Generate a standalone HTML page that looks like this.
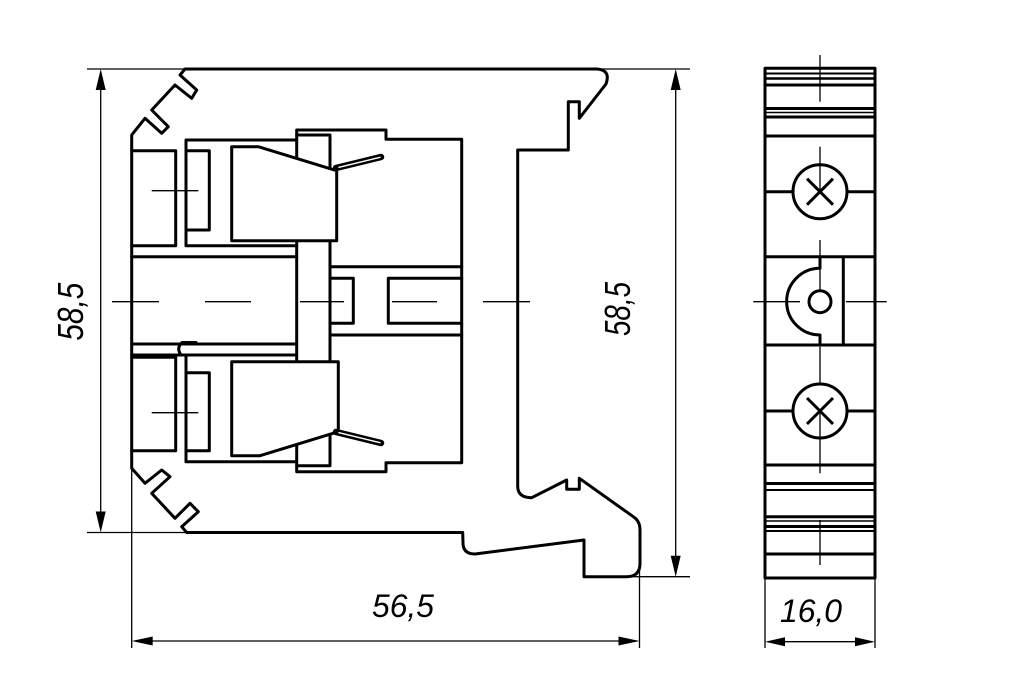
<!DOCTYPE html>
<html><head><meta charset="utf-8"><style>
html,body{margin:0;padding:0;background:#fff;}
svg{display:block;}
</style></head><body>
<svg width="1024" height="700" viewBox="0 0 1024 700" xmlns="http://www.w3.org/2000/svg">
<rect width="1024" height="700" fill="#fff"/>
<g fill="none" stroke="#000" stroke-width="1.3">
  <!-- left dim -->
  <line x1="87" y1="69" x2="186" y2="69"/>
  <line x1="87" y1="532.5" x2="187" y2="532.5"/>
  <line x1="100.7" y1="80" x2="100.7" y2="522"/>
  <!-- right dim -->
  <line x1="596" y1="69" x2="690" y2="69"/>
  <line x1="626" y1="576.7" x2="690" y2="576.7"/>
  <line x1="675.7" y1="80" x2="675.7" y2="566"/>
  <!-- bottom dim -->
  <line x1="131.7" y1="468" x2="131.7" y2="648"/>
  <line x1="639.5" y1="570" x2="639.5" y2="648"/>
  <line x1="142" y1="641" x2="629" y2="641"/>
  <!-- right view dim -->
  <line x1="765" y1="578" x2="765" y2="648"/>
  <line x1="875" y1="578" x2="875" y2="648"/>
  <line x1="775" y1="641.7" x2="865" y2="641.7"/>
  <!-- center lines -->
  <line x1="151.7" y1="190.7" x2="198.3" y2="190.7"/>
  <line x1="245" y1="190.7" x2="260" y2="190.7"/>
  <line x1="151.7" y1="412.7" x2="198.3" y2="412.7"/>
  <line x1="245" y1="412.7" x2="260" y2="412.7"/>
  <line x1="112" y1="301.7" x2="159" y2="301.7"/>
  <line x1="205" y1="301.7" x2="251" y2="301.7"/>
  <line x1="300" y1="301.7" x2="344" y2="301.7"/>
  <line x1="392" y1="301.7" x2="437" y2="301.7"/>
  <line x1="483" y1="301.7" x2="530" y2="301.7"/>
  <line x1="820" y1="55" x2="820" y2="101.7"/>
  <line x1="820" y1="146.7" x2="820" y2="191.7"/>
  <line x1="820" y1="240" x2="820" y2="290"/>
  <line x1="820" y1="346.7" x2="820" y2="384"/>
  <line x1="820" y1="411" x2="820" y2="473.3"/>
  <line x1="820" y1="520" x2="820" y2="565"/>
  <line x1="753.3" y1="301.7" x2="800" y2="301.7"/>
  <line x1="846" y1="301.7" x2="886.7" y2="301.7"/>
</g>
<!-- arrowheads -->
<g fill="#000" stroke="none">
  <polygon points="100.7,69 95.7,90 105.7,90"/>
  <polygon points="100.7,532.5 95.7,511.5 105.7,511.5"/>
  <polygon points="675.7,69 670.7,90 680.7,90"/>
  <polygon points="675.7,576.7 670.7,555.7 680.7,555.7"/>
  <polygon points="131.7,641 152.7,636.5 152.7,645.5"/>
  <polygon points="639.5,641 618.5,636.5 618.5,645.5"/>
  <polygon points="765,641.7 785,637.2 785,646.2"/>
  <polygon points="875,641.7 855,637.2 855,646.2"/>
</g>
<g fill="none" stroke="#000" stroke-width="3" stroke-linejoin="round" stroke-linecap="round">
  <!-- body outline -->
  <path d="M185,69 L597,69 Q611,70 606,84 L579.3,118.3 L579.3,101.7 L568.3,101.7 L568.3,150 L517.7,150 L517.7,486.7 Q518,497.7 531.7,497.7 L566.7,480 L566.7,489.3 L579.3,489.3 L579.3,478.3 L633.3,516.7 Q640,521 640,530 L640,563.3 Q640,576.7 626.7,576.7 L584,576.7 L584,540 L475,554 Q463,554 463,543 L462.7,532.5 L186.7,532.5 L181.7,526.7 L198.3,511.7 L190,503.3 L175,518.3 L151.7,493.3 L170,476.7 L161.7,470 L145,483.3 L131.7,468.3 L131.7,135 L145,118.3 L161.7,133.3 L168.3,126.7 L151.7,110 L175,85 L191.7,98.3 L196.7,90 L180,75 Z"/>
  <!-- housing frame -->
  <path d="M296.7,130 L386,130 L386,139.3 L461.7,139.3 L461.7,462.7 L386,462.7 L386,471.7 L296.7,471.7 Z"/>
  <path d="M296.7,135 L330,135 L330,465.7 L296.7,465.7"/>
  <line x1="330" y1="266.7" x2="461.7" y2="266.7"/>
  <line x1="330" y1="335" x2="461.7" y2="335"/>
  <path d="M330,278.3 L353.3,278.3 L353.3,323.3 L330,323.3"/>
  <path d="M461.7,278.3 L388.3,278.3 L388.3,323.3 L461.7,323.3"/>
  <!-- upper left -->
  <path d="M131.7,150.7 L175.7,150.7 L175.7,245.7 L131.7,245.7"/>
  <path d="M296.7,140 L186,140 L186,245.7 L296.7,245.7"/>
  <path d="M186,150.7 L209.3,150.7 L209.3,230 L186,230"/>
  <line x1="131.7" y1="256.7" x2="296.7" y2="256.7"/>
  <!-- lower left -->
  <line x1="131.7" y1="344" x2="296.7" y2="344"/>
  <line x1="131.7" y1="355" x2="296.7" y2="355"/>
  <path d="M131.7,357.3 L175.7,357.3 L175.7,450.7 L131.7,450.7"/>
  <path d="M186,355 L186,461.7 L296.7,461.7"/>
  <path d="M186,372.7 L209.3,372.7 L209.3,450.7 L186,450.7"/>
  <path d="M196,342.5 L182,342.5 Q176,348 181,355"/>
  <!-- clamps -->
  <path fill="#fff" d="M231.7,146.7 L258.3,146.7 L336.7,170.7 L336.7,240.7 L231.7,240.7 Z"/>
  <path fill="#fff" d="M231.7,361.7 L338.3,361.7 L338.3,431.7 L260,455.7 L231.7,455.7 Z"/>
</g>
<!-- springs -->
<g stroke-linecap="round" fill="none">
  <line x1="336" y1="168" x2="381" y2="157" stroke="#000" stroke-width="6.5"/>
  <line x1="339" y1="167.3" x2="380" y2="157.3" stroke="#fff" stroke-width="1.5"/>
  <line x1="336" y1="432" x2="381" y2="443" stroke="#000" stroke-width="6.5"/>
  <line x1="339" y1="432.7" x2="380" y2="442.7" stroke="#fff" stroke-width="1.5"/>
</g>
<!-- right view -->
<g fill="none" stroke="#000" stroke-width="3" stroke-linejoin="round">
  <rect x="765" y="68.3" width="110" height="509.7"/>
  <line x1="765" y1="73.5" x2="875" y2="73.5" stroke-width="2"/>
  <line x1="765" y1="78.5" x2="875" y2="78.5" stroke-width="2.5"/>
  <line x1="765" y1="85" x2="875" y2="85"/>
  <line x1="765" y1="108.5" x2="875" y2="108.5"/>
  <line x1="765" y1="112.5" x2="875" y2="112.5" stroke-width="1.5"/>
  <line x1="765" y1="117" x2="875" y2="117"/>
  <line x1="765" y1="136" x2="875" y2="136"/>
  <line x1="765" y1="256.7" x2="875" y2="256.7"/>
  <line x1="765" y1="345" x2="875" y2="345"/>
  <line x1="765" y1="465" x2="875" y2="465"/>
  <line x1="765" y1="483.5" x2="875" y2="483.5"/>
  <line x1="765" y1="490" x2="875" y2="490" stroke-width="2"/>
  <line x1="765" y1="516.7" x2="875" y2="516.7"/>
  <line x1="765" y1="521" x2="875" y2="521" stroke-width="1.5"/>
  <line x1="765" y1="526.5" x2="875" y2="526.5"/>
  <line x1="765" y1="531" x2="875" y2="531" stroke-width="2"/>
  <line x1="765" y1="554" x2="875" y2="554"/>
  <!-- screws -->
  <circle cx="820" cy="191.7" r="27"/>
  <line x1="807" y1="178.7" x2="833" y2="204.7"/>
  <line x1="833" y1="178.7" x2="807" y2="204.7"/>
  <line x1="765" y1="191.7" x2="793" y2="191.7"/>
  <line x1="847" y1="191.7" x2="875" y2="191.7"/>
  <circle cx="820" cy="411" r="27"/>
  <line x1="807" y1="398" x2="833" y2="424"/>
  <line x1="833" y1="398" x2="807" y2="424"/>
  <line x1="765" y1="411" x2="793" y2="411"/>
  <line x1="847" y1="411" x2="875" y2="411"/>
  <!-- middle feature -->
  <path d="M820,256.7 L820,268.3 A33.3,33.3 0 0 0 820,335 L820,345"/>
  <circle cx="820" cy="301.7" r="11"/>
  <line x1="843.3" y1="256.7" x2="843.3" y2="345"/>
</g>
<!-- text -->
<g font-family="'Liberation Sans', sans-serif" font-style="italic" fill="#000">
  <text x="372" y="617" font-size="32" textLength="62" lengthAdjust="spacingAndGlyphs">56,5</text>
  <text x="780" y="622" font-size="32" textLength="62" lengthAdjust="spacingAndGlyphs">16,0</text>
  <text transform="translate(83,311.7) rotate(-90)" text-anchor="middle" font-size="36" textLength="58" lengthAdjust="spacingAndGlyphs">58,5</text>
  <text transform="translate(630,309) rotate(-90)" text-anchor="middle" font-size="36" textLength="54" lengthAdjust="spacingAndGlyphs">58,5</text>
</g>
</svg>
</body></html>
